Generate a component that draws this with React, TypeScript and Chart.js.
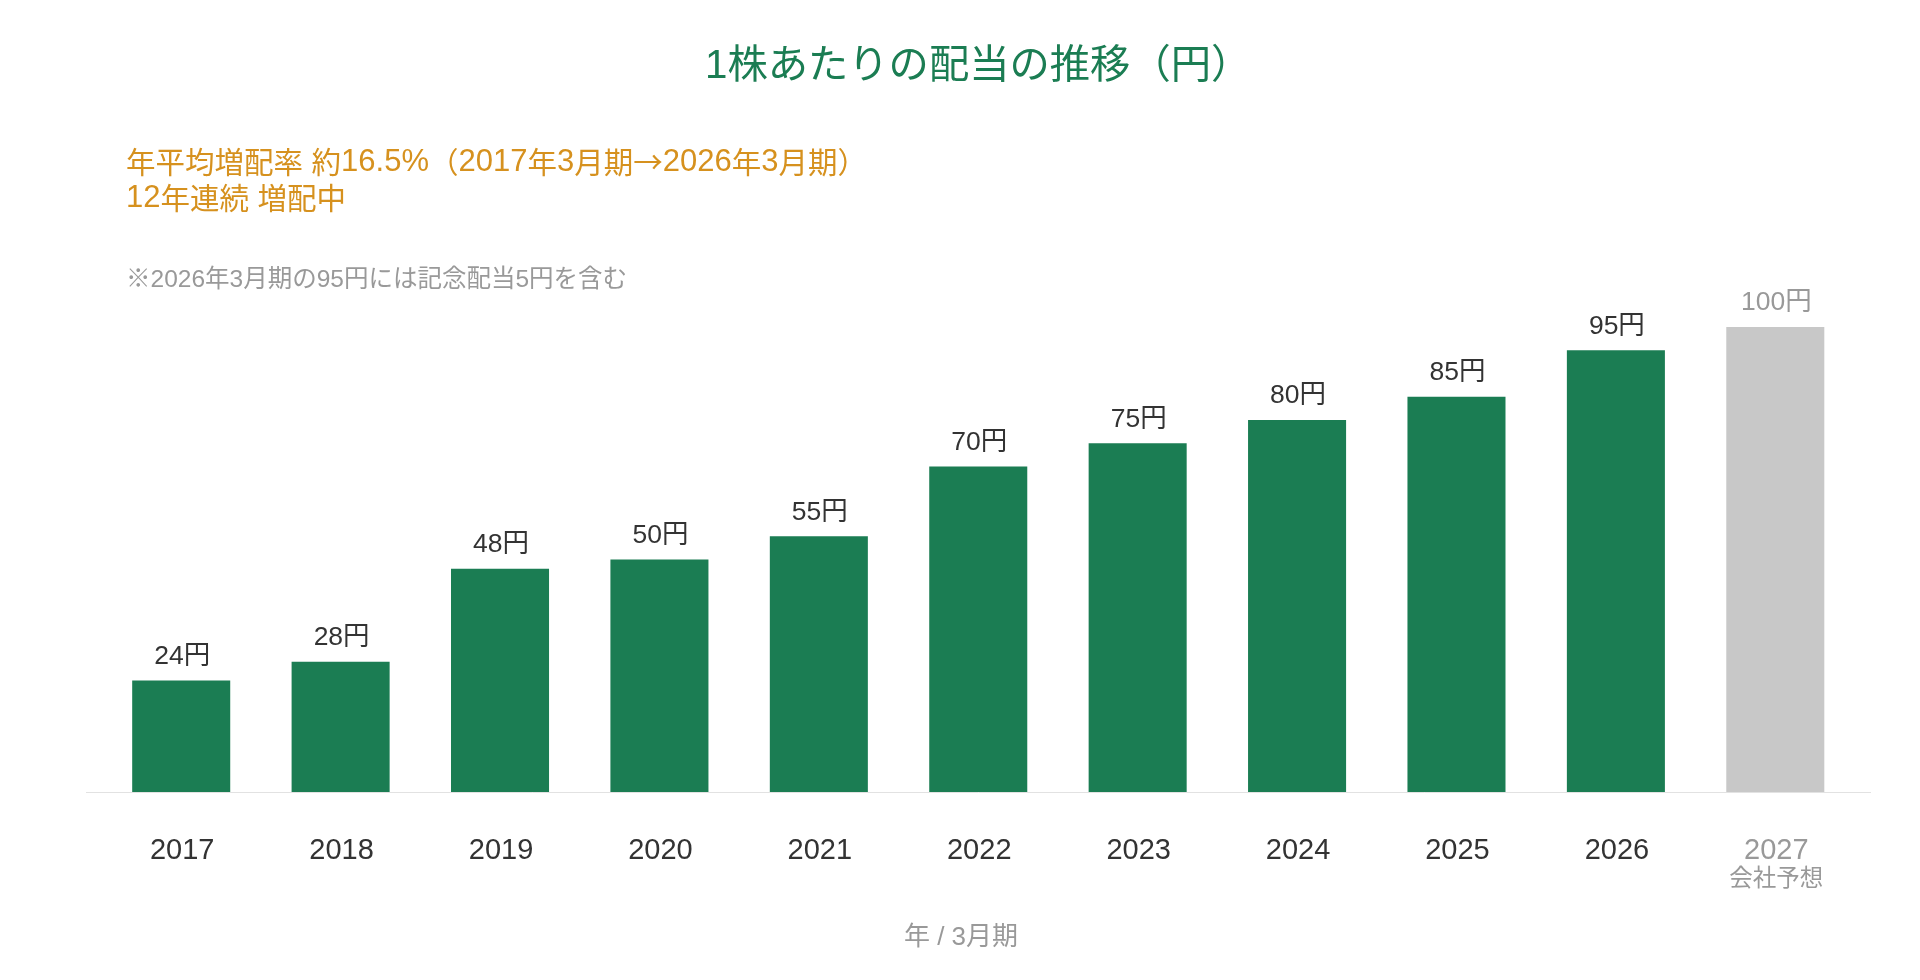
import React, { useEffect, useRef } from "react";
import { Chart, registerables } from "chart.js";

Chart.register(...registerables);

// Fiscal years (ending March) and dividend per share in yen
const years = ["2017", "2018", "2019", "2020", "2021", "2022", "2023", "2024", "2025", "2026", "2027"];
const dividends = [24, 28, 48, 50, 55, 70, 75, 80, 85, 95, 100];
const isForecast = [false, false, false, false, false, false, false, false, false, false, true];
const subLabels = ["", "", "", "", "", "", "", "", "", "", "会社予想"];

const titleText = "1株あたりの配当の推移（円）";
const headlineLines = ["年平均増配率 約16.5%（2017年3月期→2026年3月期）", "12年連続 増配中"];
const noteText = "※2026年3月期の95円には記念配当5円を含む";
const axisTitleText = "年 / 3月期";

const GREEN = "#1b7d53";
const ORANGE = "#d6911e";
const FORECAST_GRAY = "#c8c8c8";
const TEXT_DARK = "#333333";
const TEXT_GRAY = "#999999";
const FONT = '"Liberation Sans", "Noto Sans CJK JP", sans-serif';
const CJK_FONT = '"Noto Sans CJK JP", sans-serif';

const W = 1904;
const H = 964;

// Draws left-aligned text in runs: Latin runs in the Latin face, the rest
// (kana, kanji, full-width punctuation, arrows) in the CJK face.
function drawMixed(
  ctx: CanvasRenderingContext2D,
  text: string,
  x: number,
  y: number,
  latinSize: number,
  cjkSize: number
) {
  const parts = text.split(/([\x20-\x7E]+)/);
  let cx = x;
  for (const p of parts) {
    if (!p) continue;
    const latin = /^[\x20-\x7E]+$/.test(p);
    ctx.font = latin ? `${latinSize}px ${FONT}` : `${cjkSize}px ${CJK_FONT}`;
    ctx.fillText(p, cx, y);
    cx += ctx.measureText(p).width;
  }
}

const annotations = {
  id: "annotations",
  beforeDatasetsDraw(chart: any) {
    const { ctx, chartArea } = chart;
    const y0 = Math.round(chart.scales.y.getPixelForValue(0)) + 0.5;
    ctx.save();
    ctx.strokeStyle = "#e2e2e2";
    ctx.lineWidth = 1;
    ctx.beginPath();
    ctx.moveTo(chartArea.left - 15.5, y0);
    ctx.lineTo(chartArea.right + 16, y0);
    ctx.stroke();
    ctx.restore();
  },
  afterDatasetsDraw(chart: any) {
    const { ctx } = chart;
    const xs = chart.scales.x;
    const ys = chart.scales.y;
    const base = ys.getPixelForValue(0);
    ctx.save();
    ctx.textBaseline = "middle";

    // header texts
    ctx.textAlign = "left";
    ctx.fillStyle = GREEN;
    ctx.font = `40.3px ${FONT}`;
    ctx.fillText(titleText, 697, 59);

    ctx.fillStyle = ORANGE;
    drawMixed(ctx, headlineLines[0], 118, 154, 31, 29.5);
    drawMixed(ctx, headlineLines[1], 118, 190, 31, 29.5);

    ctx.fillStyle = TEXT_GRAY;
    ctx.font = `24.5px ${FONT}`;
    ctx.fillText(noteText, 118, 272);

    // value labels and category labels
    ctx.textAlign = "center";
    dividends.forEach((v, i) => {
      const cx = xs.getPixelForValue(i);
      const top = ys.getPixelForValue(v);
      ctx.fillStyle = isForecast[i] ? TEXT_GRAY : TEXT_DARK;
      ctx.font = `26.5px ${FONT}`;
      ctx.fillText(`${v}円`, cx + 1, top - 24);
      ctx.font = `29px ${FONT}`;
      ctx.fillText(years[i], cx + 1, base + 59);
      if (subLabels[i]) {
        ctx.font = `23.5px ${FONT}`;
        ctx.fillText(subLabels[i], cx + 1, base + 88);
      }
    });

    // x axis title
    ctx.fillStyle = TEXT_GRAY;
    ctx.font = `26px ${FONT}`;
    ctx.fillText(axisTitleText, 953, 930);
    ctx.restore();
  },
};

export default function App() {
  const canvasRef = useRef<HTMLCanvasElement | null>(null);

  useEffect(() => {
    if (!canvasRef.current) return;
    const chart = new Chart(canvasRef.current, {
      type: "bar",
      data: {
        labels: years,
        datasets: [
          {
            data: dividends,
            backgroundColor: isForecast.map((f) => (f ? FORECAST_GRAY : GREEN)),
            borderWidth: 0,
            barPercentage: 0.615,
            categoryPercentage: 1,
          },
        ],
      },
      options: {
        animation: false,
        responsive: false,
        devicePixelRatio: 1,
        layout: { padding: { left: 93.5, right: 57, top: 272.5, bottom: 180 } },
        scales: {
          x: { display: false },
          y: { display: false, min: 0, max: 110 },
        },
        plugins: {
          legend: { display: false },
          tooltip: { enabled: false },
          title: { display: false },
        },
      },
      plugins: [annotations],
    });
    return () => chart.destroy();
  }, []);

  return (
    <div style={{ position: "relative", width: W, height: H }}>
      <canvas ref={canvasRef} width={W} height={H} style={{ display: "block" }} />
    </div>
  );
}
